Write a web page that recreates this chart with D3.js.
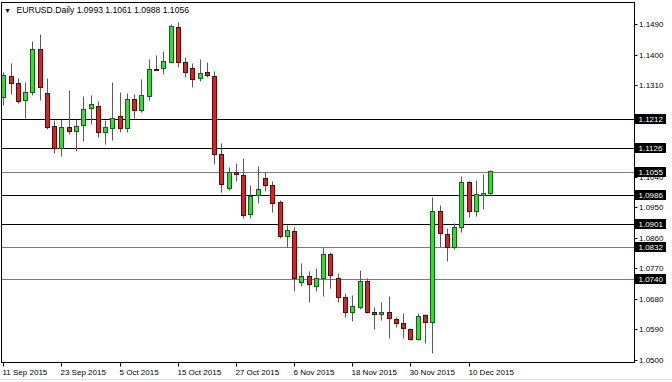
<!DOCTYPE html>
<html>
<head>
<meta charset="utf-8">
<script src="https://cdn.jsdelivr.net/npm/d3@7"></script>
<style>
  html, body { margin: 0; padding: 0; background: #fff; }
  text { font-family: "Liberation Sans", Arial, sans-serif; font-size: 8px; }
</style>
</head>
<body>
<div id="chart"></div>
<script>
// EURUSD daily, 11 Sep 2015 .. 15 Dec 2015
const dates = [
  "2015-09-11","2015-09-14","2015-09-15","2015-09-16","2015-09-17","2015-09-18",
  "2015-09-21","2015-09-22","2015-09-23","2015-09-24","2015-09-25",
  "2015-09-28","2015-09-29","2015-09-30","2015-10-01","2015-10-02",
  "2015-10-05","2015-10-06","2015-10-07","2015-10-08","2015-10-09",
  "2015-10-12","2015-10-13","2015-10-14","2015-10-15","2015-10-16",
  "2015-10-19","2015-10-20","2015-10-21","2015-10-22","2015-10-23",
  "2015-10-26","2015-10-27","2015-10-28","2015-10-29","2015-10-30",
  "2015-11-02","2015-11-03","2015-11-04","2015-11-05","2015-11-06",
  "2015-11-09","2015-11-10","2015-11-11","2015-11-12","2015-11-13",
  "2015-11-16","2015-11-17","2015-11-18","2015-11-19","2015-11-20",
  "2015-11-23","2015-11-24","2015-11-25","2015-11-26","2015-11-27",
  "2015-11-30","2015-12-01","2015-12-02","2015-12-03","2015-12-04",
  "2015-12-07","2015-12-08","2015-12-09","2015-12-10","2015-12-11",
  "2015-12-14","2015-12-15"
];
const open = [
  1.1275,1.1338,1.1316,1.1267,1.1290,1.1416,1.1288,1.1190,1.1126,1.1186,1.1175,
  1.1193,1.1242,1.1250,1.1172,1.1185,1.1219,1.1183,1.1269,1.1237,1.1279,
  1.1358,1.1360,1.1380,1.1481,1.1378,1.1360,1.1331,1.1348,1.1338,1.1107,
  1.1006,1.1054,1.1046,1.0930,1.0987,1.1036,1.1016,1.0965,1.0866,1.0881,
  1.0731,1.0749,1.0719,1.0741,1.0812,1.0741,1.0687,1.0643,1.0655,1.0734,
  1.0641,1.0635,1.0643,1.0621,1.0608,1.0591,1.0562,1.0633,1.0613,1.0940,
  1.0872,1.0832,1.0891,1.1026,1.0940,1.0988,1.0993
];
const high = [
  1.1350,1.1375,1.1331,1.1321,1.1442,1.1461,1.1331,1.1208,1.1210,1.1296,1.1210,
  1.1279,1.1281,1.1264,1.1208,1.1321,1.1291,1.1287,1.1285,1.1329,1.1387,
  1.1400,1.1411,1.1491,1.1498,1.1394,1.1377,1.1387,1.1380,1.1353,1.1141,
  1.1070,1.1080,1.1095,1.1016,1.1072,1.1054,1.1028,1.0971,1.0898,1.0893,
  1.0787,1.0762,1.0770,1.0832,1.0818,1.0756,1.0697,1.0692,1.0765,1.0741,
  1.0657,1.0672,1.0689,1.0628,1.0638,1.0594,1.0638,1.0635,1.0981,1.0957,
  1.0888,1.0905,1.1043,1.1029,1.1031,1.1049,1.1061
];
const low = [
  1.1252,1.1284,1.1257,1.1213,1.1282,1.1267,1.1180,1.1111,1.1103,1.1166,1.1117,
  1.1147,1.1195,1.1159,1.1136,1.1149,1.1173,1.1173,1.1215,1.1232,1.1267,
  1.1355,1.1343,1.1377,1.1363,1.1334,1.1306,1.1323,1.1334,1.1078,1.0996,
  1.1001,1.1028,1.0918,1.0918,1.0964,1.0999,1.0936,1.0860,1.0832,1.0704,
  1.0718,1.0672,1.0704,1.0689,1.0713,1.0672,1.0628,1.0616,1.0650,1.0638,
  1.0591,1.0618,1.0564,1.0598,1.0566,1.0559,1.0559,1.0549,1.0520,1.0832,
  1.0792,1.0826,1.0878,1.0923,1.0925,1.0944,1.0988
];
const close = [
  1.1340,1.1318,1.1264,1.1289,1.1416,1.1304,1.1188,1.1124,1.1188,1.1176,1.1191,
  1.1239,1.1254,1.1173,1.1186,1.1213,1.1183,1.1269,1.1237,1.1282,1.1357,
  1.1356,1.1382,1.1485,1.1380,1.1348,1.1328,1.1347,1.1340,1.1107,1.1018,
  1.1054,1.1049,1.0928,1.0985,1.1003,1.1016,1.0962,1.0866,1.0883,1.0741,
  1.0749,1.0724,1.0741,1.0812,1.0751,1.0685,1.0641,1.0660,1.0734,1.0641,
  1.0635,1.0641,1.0625,1.0608,1.0594,1.0561,1.0631,1.0613,1.0940,1.0874,
  1.0834,1.0891,1.1024,1.0940,1.0989,1.0992,1.1056
];

// horizontal levels drawn on the chart
const levels = [1.1212, 1.1126, 1.1055, 1.0986, 1.0901, 1.0832, 1.0740];
const levelGray = [false, false, true, false, false, true, true];

// price scale labels
const yTicks = [1.1490,1.1400,1.1310,1.1220,1.1130,1.1040,1.0950,1.0860,1.0770,1.0680,1.0590,1.0500];
// every 8th bar gets a date label
const xTickIdx = [0, 8, 16, 24, 32, 40, 48, 56, 64];

const W = 672, H = 382;
const pL = 1.5, pT = 2.5, pR = 634.5, pB = 362.5;

const svg = d3.select('#chart').append('svg')
  .attr('width', W).attr('height', H)
  .style('display', 'block');

// bar index -> x, with empty "chart shift" room on the right
var x = d3.scaleLinear().domain([0, 87]).range([3.3, 635.8]);
var y = d3.scaleLinear().domain([1.0500, 1.1490]).range([360.0, 24.3]);
var cx = i => Math.round(x(i)) + 0.5;
var py = v => Math.round(y(v)) + 0.5;

svg.append('defs').append('clipPath').attr('id', 'plotclip')
  .append('rect').attr('x', pL).attr('y', pT)
  .attr('width', pR - pL).attr('height', pB - pT);

const plot = svg.append('g').attr('clip-path', 'url(#plotclip)');

// level lines
plot.selectAll('.lvl').data(levels).enter().append('line')
  .attr('class', 'lvl')
  .attr('x1', pL).attr('x2', pR)
  .attr('y1', d => py(d)).attr('y2', d => py(d))
  .attr('stroke', (d, i) => levelGray[i] ? '#7a7a7a' : '#000')
  .attr('stroke-width', 1);

const bars = d3.range(dates.length).map(i => ({
  i: i, o: open[i], h: high[i], l: low[i], c: close[i]
}));

// wicks
plot.selectAll('.wick').data(bars).enter().append('line')
  .attr('class', 'wick')
  .attr('x1', d => cx(d.i)).attr('x2', d => cx(d.i))
  .attr('y1', d => py(d.h)).attr('y2', d => py(d.l))
  .attr('stroke', '#5a5a5a').attr('stroke-width', 1);

// bodies
plot.selectAll('.body').data(bars).enter().append('rect')
  .attr('class', 'body')
  .attr('x', d => cx(d.i) - 2)
  .attr('width', 4)
  .attr('y', d => py(Math.max(d.o, d.c)))
  .attr('height', d => Math.max(1, py(Math.min(d.o, d.c)) - py(Math.max(d.o, d.c))))
  .attr('fill', d => d.c >= d.o ? '#33dd33' : '#dd2222')
  .attr('stroke', d => d.c >= d.o ? '#1e5a1e' : '#4a1010')
  .attr('stroke-width', 1);

// frame
svg.append('rect')
  .attr('x', pL).attr('y', pT)
  .attr('width', pR - pL).attr('height', pB - pT)
  .attr('fill', 'none').attr('stroke', '#000').attr('stroke-width', 1);

// header
svg.append('text').attr('x', 4).attr('y', 12.5).style('font-size', '7px').text('\u25BC');
svg.append('text').attr('x', 16.5).attr('y', 12.5).style('font-size', '8.6px')
  .text('EURUSD.Daily  1.0993 1.1061 1.0988 1.1056');

// price axis
const yAx = svg.append('g');
yAx.selectAll('.yt').data(yTicks).enter().append('line')
  .attr('x1', pR).attr('x2', pR + 3)
  .attr('y1', d => py(d)).attr('y2', d => py(d))
  .attr('stroke', '#000');
yAx.selectAll('.ylab').data(yTicks).enter().append('text')
  .attr('x', 639).attr('y', d => y(d) + 3)
  .attr('fill', '#000')
  .text(d => d3.format('.4f')(d));

// boxed level labels on top of the scale
const box = svg.selectAll('.lbox').data(levels).enter().append('g');
box.append('rect')
  .attr('x', 635).attr('y', d => Math.round(y(d)) - 5)
  .attr('width', 31).attr('height', 10)
  .attr('fill', '#000');
box.append('text')
  .attr('x', 638.5).attr('y', d => Math.round(y(d)) + 3)
  .attr('fill', '#fff')
  .text(d => d3.format('.4f')(d));

// time axis
const fmt = d3.timeFormat('%-d %b %Y');
const parse = d3.timeParse('%Y-%m-%d');
const xAx = svg.append('g');
xAx.selectAll('.xt').data(xTickIdx).enter().append('line')
  .attr('x1', d => cx(d)).attr('x2', d => cx(d))
  .attr('y1', pB).attr('y2', pB + 4)
  .attr('stroke', '#000');
xAx.selectAll('.xlab').data(xTickIdx).enter().append('text')
  .attr('x', d => cx(d) - 1).attr('y', 375)
  .attr('fill', '#000')
  .text(d => fmt(parse(dates[d])));

// window edge at the bottom
svg.append('line').attr('x1', 0).attr('x2', W).attr('y1', 379.5).attr('y2', 379.5)
  .attr('stroke', '#e2e2e2');
</script>
</body>
</html>
